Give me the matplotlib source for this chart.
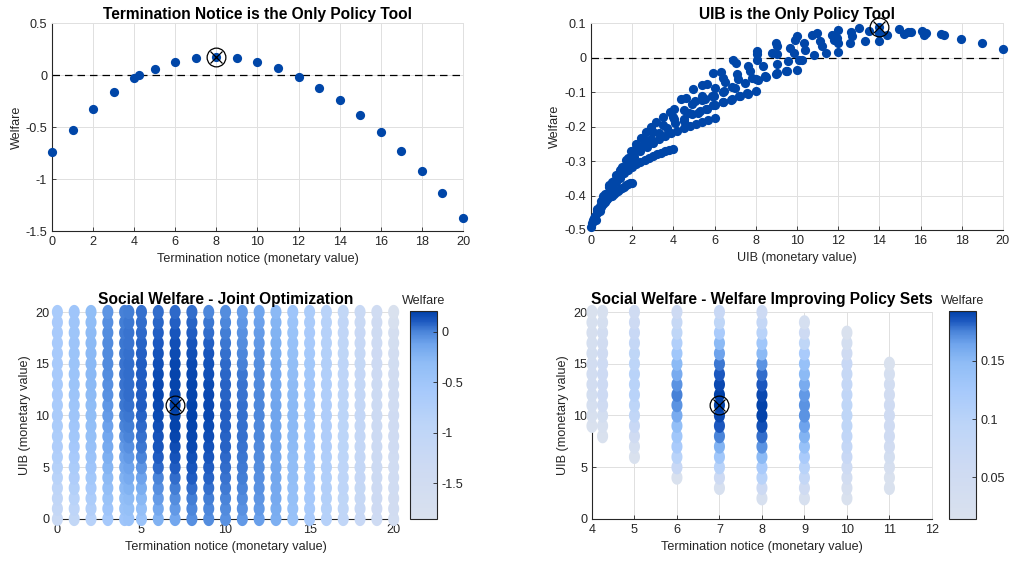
import numpy as np
import matplotlib.pyplot as plt
from matplotlib.colors import LinearSegmentedColormap, Normalize
from matplotlib.ticker import FormatStrFormatter

plt.rcParams['font.family'] = ['Liberation Sans', 'DejaVu Sans']
plt.rcParams['font.size'] = 9.1

# --- termination notice as the only tool ---
tn_values = [0, 1, 2, 3, 4, 4.25, 5, 6, 7, 8, 9, 10, 11, 12, 13, 14, 15, 16, 17, 18, 19, 20]
tn_welfare = [-0.744, -0.529, -0.327, -0.160, -0.029, 0.0, 0.061, 0.128, 0.167, 0.176, 0.167,
              0.128, 0.064, -0.022, -0.122, -0.244, -0.381, -0.551, -0.728, -0.923, -1.138, -1.372]

# --- UIB as the only tool: (uib, welfare) ---
# dense part at low benefit levels
uib_low = [
    (0.0, -0.49), (0.05, -0.48), (0.1, -0.472), (0.2, -0.46), (0.3, -0.45), (0.4, -0.44),
    (0.5, -0.432), (0.6, -0.425), (0.7, -0.418), (0.8, -0.41), (0.9, -0.405), (1.0, -0.40),
    (1.1, -0.395), (1.2, -0.39), (1.3, -0.386), (1.4, -0.382), (1.5, -0.378), (1.6, -0.375),
    (1.7, -0.371), (1.8, -0.368), (1.9, -0.365), (2.0, -0.363),
    (0.15, -0.465), (0.3, -0.445), (0.45, -0.43), (0.6, -0.415), (0.8, -0.395), (1.0, -0.378),
    (1.2, -0.362), (1.4, -0.348), (1.6, -0.336), (1.8, -0.326), (2.0, -0.317), (2.2, -0.309),
    (2.4, -0.302), (2.6, -0.296), (2.8, -0.29), (3.0, -0.285), (3.2, -0.28), (3.4, -0.276),
    (3.6, -0.272), (3.8, -0.268), (4.0, -0.265),
    (0.3, -0.44), (0.5, -0.415), (0.7, -0.395), (0.9, -0.375), (1.1, -0.357), (1.3, -0.34),
    (1.5, -0.325), (1.8, -0.305), (2.1, -0.287), (2.4, -0.272), (2.7, -0.259), (3.0, -0.247),
    (3.3, -0.237), (3.6, -0.228), (3.9, -0.22), (4.2, -0.212), (4.5, -0.205), (4.8, -0.198),
    (5.1, -0.192), (5.4, -0.186), (5.7, -0.18), (6.0, -0.175),
    (0.6, -0.40), (0.9, -0.37), (1.2, -0.342), (1.5, -0.318), (1.8, -0.297), (2.1, -0.278),
    (2.5, -0.256), (2.9, -0.237), (3.3, -0.22), (3.7, -0.205), (4.1, -0.19), (4.5, -0.177),
    (4.9, -0.165), (5.3, -0.155), (5.6, -0.149), (6.0, -0.139), (6.4, -0.129), (6.8, -0.122),
    (7.2, -0.113), (7.6, -0.106), (8.0, -0.098),
    (1.0, -0.36), (1.4, -0.325), (1.8, -0.29), (2.2, -0.262), (2.6, -0.238), (3.0, -0.215),
    (3.5, -0.195), (4.0, -0.172), (4.5, -0.152), (4.9, -0.135), (5.4, -0.122), (5.9, -0.113),
    (6.4, -0.10), (7.0, -0.087), (7.5, -0.074), (8.1, -0.064), (8.5, -0.056), (9.0, -0.048),
    (9.5, -0.04), (10.0, -0.035),
    (0.24, -0.47), (0.45, -0.445), (0.73, -0.413), (0.95, -0.385), (1.22, -0.355),
    (1.45, -0.327), (1.71, -0.298), (1.95, -0.272), (2.2, -0.25), (2.45, -0.232),
    (2.68, -0.216), (2.9, -0.202), (3.17, -0.187), (3.5, -0.172), (3.82, -0.158),
]
# spread of points at higher benefit levels
uib_high = [
    (4.02, -0.148), (4.39, -0.121), (4.63, -0.116), (4.93, -0.092), (4.76, -0.16),
    (4.5, -0.184), (4.02, -0.179), (5.04, -0.126), (5.2, -0.16), (5.37, -0.081),
    (5.61, -0.078), (5.41, -0.112), (5.53, -0.121), (5.61, -0.15), (5.93, -0.044),
    (6.02, -0.088), (5.98, -0.112), (5.93, -0.138), (6.29, -0.042), (6.42, -0.059),
    (6.5, -0.071), (6.47, -0.097), (6.42, -0.128), (6.83, -0.119), (6.91, -0.008),
    (7.04, -0.017), (7.07, -0.049), (7.15, -0.062), (6.83, -0.085), (7.24, -0.112),
    (7.64, -0.025), (7.72, -0.039), (7.8, -0.059), (7.56, -0.104), (8.05, 0.018),
    (8.05, 0.009), (8.08, -0.006), (8.02, -0.063), (8.37, -0.025), (8.46, -0.054),
    (8.78, 0.013), (8.99, 0.042), (9.02, 0.033), (9.02, 0.009), (9.02, -0.02),
    (9.02, -0.046), (9.48, -0.038), (9.59, -0.011), (9.64, 0.028), (9.84, 0.013),
    (9.92, 0.052), (10.0, 0.062), (10.08, -0.006), (10.33, 0.042), (10.41, 0.023),
    (10.24, -0.006), (10.81, 0.006), (10.73, 0.066), (10.98, 0.071), (11.14, 0.047),
    (11.22, 0.033), (11.43, 0.012), (11.71, 0.066), (11.79, 0.052), (11.98, 0.081),
    (11.98, 0.042), (11.98, 0.016), (11.93, 0.057), (12.6, 0.042), (12.63, 0.073),
    (12.68, 0.063), (13.0, 0.085), (13.3, 0.047), (13.5, 0.076), (13.98, 0.071),
    (14.0, 0.049), (14.0, 0.088), (14.39, 0.066), (14.96, 0.083), (15.2, 0.069),
    (15.37, 0.073), (15.53, 0.073), (16.05, 0.076), (16.15, 0.066), (16.26, 0.071),
    (16.99, 0.068), (17.15, 0.064), (17.97, 0.055), (18.98, 0.042), (20.0, 0.025),
]

# --- joint optimisation grid: one row of welfare per termination notice, over uib_levels ---
uib_levels = list(range(21))
welfare_grid = [
    [-1.22, -1.12, -1.02, -0.94, -0.86, -0.80, -0.75, -0.71, -0.68, -0.66, -0.64, -0.63, -0.62, -0.61, -0.60, -0.60, -0.60, -0.60, -0.61, -0.62, -0.63],
    [-1.05, -0.95, -0.86, -0.78, -0.71, -0.65, -0.60, -0.56, -0.53, -0.51, -0.49, -0.48, -0.47, -0.46, -0.46, -0.46, -0.46, -0.47, -0.48, -0.49, -0.50],
    [-0.85, -0.76, -0.68, -0.61, -0.55, -0.50, -0.45, -0.41, -0.38, -0.35, -0.33, -0.31, -0.30, -0.29, -0.28, -0.28, -0.28, -0.29, -0.30, -0.31, -0.33],
    [-0.58, -0.50, -0.43, -0.36, -0.30, -0.25, -0.21, -0.17, -0.14, -0.11, -0.09, -0.07, -0.05, -0.04, -0.03, -0.02, -0.02, -0.02, -0.03, -0.04, -0.06],
    [-0.50, -0.42, -0.35, -0.28, -0.22, -0.17, -0.12, -0.08, -0.04, 0.005, 0.02, 0.03, 0.035, 0.04, 0.04, 0.04, 0.035, 0.03, 0.025, 0.02, 0.01],
    [-0.45, -0.37, -0.30, -0.23, -0.17, -0.12, -0.08, -0.04, 0.005, 0.02, 0.035, 0.05, 0.06, 0.06, 0.06, 0.055, 0.05, 0.045, 0.04, 0.03, 0.02],
    [-0.45, -0.36, -0.27, -0.19, -0.12, -0.06, 0.005, 0.03, 0.05, 0.07, 0.085, 0.095, 0.10, 0.10, 0.10, 0.095, 0.09, 0.08, 0.07, 0.06, 0.05],
    [-0.22, -0.15, -0.09, -0.04, 0.005, 0.07, 0.10, 0.12, 0.13, 0.145, 0.16, 0.17, 0.176, 0.17, 0.16, 0.15, 0.13, 0.11, 0.09, 0.075, 0.06],
    [-0.14, -0.08, -0.03, 0.02, 0.06, 0.10, 0.13, 0.155, 0.175, 0.185, 0.19, 0.207, 0.195, 0.19, 0.185, 0.178, 0.165, 0.15, 0.12, 0.09, 0.07],
    [-0.04, -0.01, 0.02, 0.06, 0.10, 0.12, 0.15, 0.17, 0.18, 0.188, 0.192, 0.192, 0.19, 0.185, 0.18, 0.17, 0.15, 0.13, 0.10, 0.08, 0.06],
    [-0.03, -0.005, 0.02, 0.05, 0.08, 0.10, 0.12, 0.14, 0.155, 0.165, 0.17, 0.17, 0.168, 0.16, 0.15, 0.14, 0.12, 0.09, 0.06, 0.03, -0.01],
    [-0.05, -0.02, 0.005, 0.025, 0.04, 0.055, 0.07, 0.08, 0.085, 0.09, 0.09, 0.09, 0.085, 0.08, 0.075, 0.07, 0.05, 0.035, 0.015, -0.01, -0.03],
    [-0.08, -0.05, -0.02, 0.005, 0.015, 0.025, 0.035, 0.045, 0.05, 0.05, 0.05, 0.05, 0.045, 0.04, 0.03, 0.01, -0.01, -0.03, -0.05, -0.07, -0.09],
    [-0.10, -0.08, -0.06, -0.05, -0.04, -0.03, -0.02, -0.015, -0.01, -0.01, -0.01, -0.01, -0.01, -0.015, -0.02, -0.03, -0.05, -0.07, -0.09, -0.11, -0.13],
    [-0.20, -0.18, -0.17, -0.16, -0.15, -0.14, -0.14, -0.13, -0.13, -0.13, -0.13, -0.13, -0.14, -0.15, -0.16, -0.17, -0.19, -0.21, -0.23, -0.25, -0.28],
    [-0.42, -0.40, -0.38, -0.36, -0.34, -0.32, -0.31, -0.30, -0.29, -0.28, -0.28, -0.28, -0.29, -0.30, -0.32, -0.34, -0.37, -0.40, -0.43, -0.46, -0.50],
    [-0.62, -0.60, -0.58, -0.56, -0.54, -0.52, -0.51, -0.50, -0.50, -0.49, -0.49, -0.49, -0.50, -0.51, -0.53, -0.55, -0.57, -0.60, -0.62, -0.64, -0.66],
    [-0.82, -0.80, -0.78, -0.76, -0.74, -0.73, -0.72, -0.71, -0.71, -0.71, -0.71, -0.71, -0.72, -0.73, -0.74, -0.76, -0.78, -0.80, -0.82, -0.84, -0.86],
    [-1.02, -1.00, -0.98, -0.96, -0.95, -0.94, -0.93, -0.92, -0.92, -0.92, -0.92, -0.92, -0.93, -0.94, -0.95, -0.96, -0.98, -1.00, -1.02, -1.04, -1.06],
    [-1.20, -1.18, -1.16, -1.14, -1.13, -1.12, -1.11, -1.10, -1.10, -1.10, -1.10, -1.10, -1.11, -1.12, -1.13, -1.14, -1.16, -1.18, -1.20, -1.22, -1.25],
    [-1.38, -1.36, -1.34, -1.33, -1.32, -1.31, -1.30, -1.30, -1.30, -1.30, -1.30, -1.30, -1.31, -1.32, -1.33, -1.34, -1.36, -1.38, -1.40, -1.42, -1.45],
    [-1.55, -1.52, -1.50, -1.48, -1.47, -1.46, -1.45, -1.44, -1.44, -1.44, -1.44, -1.45, -1.46, -1.48, -1.50, -1.53, -1.56, -1.60, -1.66, -1.75, -1.855],
]
improving_clim = (0.014, 0.193)

# colour map: pale grey-blue -> light blue -> dark blue
cmap_pos = [0, 0.25, 0.45, 0.62, 0.75, 0.84, 0.90, 0.95, 1.0]
cmap_hex = ['#d9e1ee', '#cddaf3', '#bdd5f8', '#a6c9fb', '#90bdf6', '#70a5ed', '#4c86da', '#1f5bc1', '#0040a8']
welfare_cmap = LinearSegmentedColormap.from_list('welfare', list(zip(cmap_pos, cmap_hex)))

dot_color = '#0046a8'
txt = '#262626'

# tall oval marker so the unit-spaced grid points join up into columns
theta = np.linspace(0, 2 * np.pi, 41)
oval = np.column_stack([0.78 * np.cos(theta), np.sin(theta)])


def style(ax):
    ax.grid(True, color='#e0e0e0', lw=0.7)
    ax.set_axisbelow(True)
    for s in ['left', 'bottom']:
        ax.spines[s].set_color(txt)
        ax.spines[s].set_linewidth(0.8)
    for s in ['top', 'right']:
        ax.spines[s].set_color('#e0e0e0')
        ax.spines[s].set_linewidth(0.7)
    ax.tick_params(direction='in', length=3, colors=txt, labelsize=9.1, width=0.6)
    ax.yaxis.set_major_formatter(FormatStrFormatter('%g'))
    ax.xaxis.set_major_formatter(FormatStrFormatter('%g'))


def mark_best(ax, x, y):
    ax.plot(x, y, 'o', ms=13.5, mfc='none', mec='k', mew=0.9, zorder=5, clip_on=False)
    ax.plot(x, y, 'x', ms=9, mec='k', mew=0.9, zorder=5, clip_on=False)


fig = plt.figure(figsize=(10.1, 5.64), dpi=100)

# top left
ax1 = fig.add_axes([0.0515, 0.5904, 0.4069, 0.3688])
style(ax1)
ax1.axhline(0, color='k', ls=(0, (6, 4)), lw=0.9, zorder=2)
ax1.scatter(tn_values, tn_welfare, s=44, color=dot_color, zorder=3, clip_on=False, linewidths=0)
i_best = int(np.argmax(tn_welfare))
mark_best(ax1, tn_values[i_best], tn_welfare[i_best])
ax1.set_xlim(0, 20)
ax1.set_ylim(-1.5, 0.5)
ax1.set_xticks(np.arange(0, 21, 2))
ax1.set_yticks([-1.5, -1, -0.5, 0, 0.5])
ax1.set_xlabel('Termination notice (monetary value)', color=txt)
ax1.set_ylabel('Welfare', color=txt, labelpad=2)
ax1.set_title('Termination Notice is the Only Policy Tool', fontweight='bold', fontsize=11.2, pad=3)

# top right
ax2 = fig.add_axes([0.5851, 0.5922, 0.4079, 0.367])
style(ax2)
ax2.axhline(0, color='k', ls=(0, (6, 4)), lw=0.9, zorder=2)
uib_pts = np.array(uib_low + uib_high)
ax2.scatter(uib_pts[:, 0], uib_pts[:, 1], s=44, color=dot_color, zorder=3, clip_on=False, linewidths=0)
j_best = int(np.argmax(uib_pts[:, 1]))
mark_best(ax2, uib_pts[j_best, 0], uib_pts[j_best, 1])
ax2.set_xlim(0, 20)
ax2.set_ylim(-0.5, 0.1)
ax2.set_xticks(np.arange(0, 21, 2))
ax2.set_yticks([-0.5, -0.4, -0.3, -0.2, -0.1, 0, 0.1])
ax2.set_xlabel('UIB (monetary value)', color=txt)
ax2.set_ylabel('Welfare', color=txt, labelpad=2)
ax2.set_title('UIB is the Only Policy Tool', fontweight='bold', fontsize=11.2, pad=3)

# joint grid as flat arrays
grid = np.array(welfare_grid)
gx = np.repeat(tn_values, len(uib_levels))
gy = np.tile(uib_levels, len(tn_values))
gw = grid.ravel()
k_best = int(np.argmax(gw))

# bottom left
ax3 = fig.add_axes([0.0535, 0.0798, 0.3396, 0.367])
style(ax3)
norm3 = Normalize(gw.min(), gw.max())
sc3 = ax3.scatter(gx, gy, c=gw, cmap=welfare_cmap, norm=norm3, s=105, marker=oval,
                  linewidths=0, zorder=3, clip_on=False)
mark_best(ax3, gx[k_best], gy[k_best])
ax3.set_xlim(-0.2, 20.2)
ax3.set_ylim(0, 20)
ax3.set_xticks([0, 5, 10, 15, 20])
ax3.set_yticks([0, 5, 10, 15, 20])
ax3.set_xlabel('Termination notice (monetary value)', color=txt)
ax3.set_ylabel('UIB (monetary value)', color=txt, labelpad=3)
ax3.set_title('Social Welfare - Joint Optimization', fontweight='bold', fontsize=11.2, pad=6)

cax3 = fig.add_axes([0.406, 0.0798, 0.0267, 0.3688])
cb3 = fig.colorbar(sc3, cax=cax3)
cb3.set_ticks([0, -0.5, -1, -1.5])
cb3.ax.yaxis.set_major_formatter(FormatStrFormatter('%g'))

# bottom right: only the policy sets that improve welfare
keep = (gw > 0) & (gx >= 4) & (gx <= 11)
ax4 = fig.add_axes([0.5861, 0.0798, 0.3366, 0.367])
style(ax4)
norm4 = Normalize(*improving_clim)
sc4 = ax4.scatter(gx[keep], gy[keep], c=gw[keep], cmap=welfare_cmap, norm=norm4, s=105,
                  marker=oval, linewidths=0, zorder=3, clip_on=False)
mark_best(ax4, gx[k_best], gy[k_best])
ax4.set_xlim(4, 12)
ax4.set_ylim(0, 20)
ax4.set_xticks(range(4, 13))
ax4.set_yticks([0, 5, 10, 15, 20])
ax4.set_xlabel('Termination notice (monetary value)', color=txt)
ax4.set_ylabel('UIB (monetary value)', color=txt, labelpad=3)
ax4.set_title('Social Welfare - Welfare Improving Policy Sets', fontweight='bold', fontsize=11.2, pad=6)

cax4 = fig.add_axes([0.9396, 0.0798, 0.0267, 0.3688])
cb4 = fig.colorbar(sc4, cax=cax4)
cb4.set_ticks([0.05, 0.1, 0.15])
cb4.ax.yaxis.set_major_formatter(FormatStrFormatter('%g'))

for cb in (cb3, cb4):
    cb.outline.set_edgecolor(txt)
    cb.outline.set_linewidth(0.8)
    cb.ax.tick_params(direction='in', length=3, colors=txt, labelsize=9.1, width=0.6)
    cb.ax.set_title('Welfare', fontsize=9.1, color=txt, pad=5)

fig.savefig('out.png', dpi=100)
